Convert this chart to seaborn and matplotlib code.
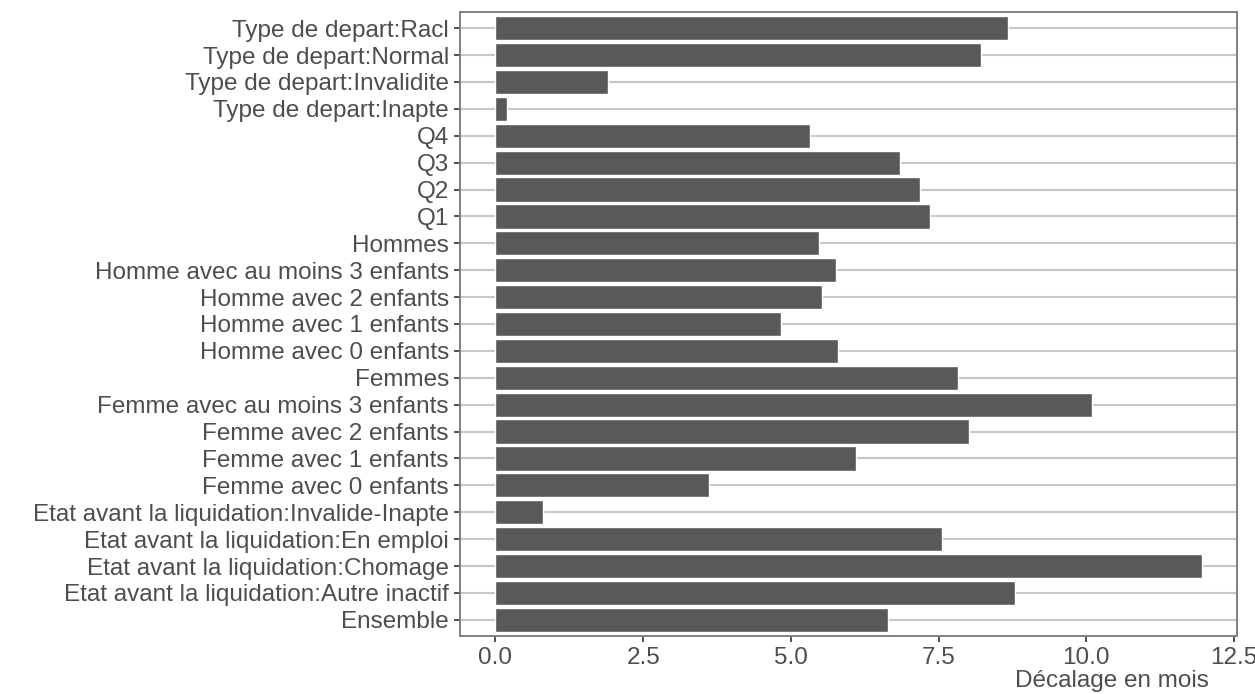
import matplotlib
matplotlib.use("Agg")
import matplotlib.pyplot as plt
import seaborn as sns
import pandas as pd

# categories from top to bottom, as in the picture
categories = [
    "Type de depart:Racl",
    "Type de depart:Normal",
    "Type de depart:Invalidite",
    "Type de depart:Inapte",
    "Q4",
    "Q3",
    "Q2",
    "Q1",
    "Hommes",
    "Homme avec au moins 3 enfants",
    "Homme avec 2 enfants",
    "Homme avec 1 enfants",
    "Homme avec 0 enfants",
    "Femmes",
    "Femme avec au moins 3 enfants",
    "Femme avec 2 enfants",
    "Femme avec 1 enfants",
    "Femme avec 0 enfants",
    "Etat avant la liquidation:Invalide-Inapte",
    "Etat avant la liquidation:En emploi",
    "Etat avant la liquidation:Chomage",
    "Etat avant la liquidation:Autre inactif",
    "Ensemble",
]
decalage = [8.68, 8.21, 1.90, 0.20, 5.33, 6.84, 7.19, 7.35, 5.48, 5.76, 5.52, 4.84,
            5.80, 7.83, 10.09, 8.01, 6.10, 3.61, 0.80, 7.55, 11.95, 8.80, 6.65]
x_ticks = [0.0, 2.5, 5.0, 7.5, 10.0, 12.5]

df = pd.DataFrame({"categorie": categories, "decalage": decalage})

sns.set_theme(style="white")
plt.rcParams['font.family'] = ['Liberation Sans', 'DejaVu Sans']

fig = plt.figure(figsize=(12.55, 6.94), dpi=100)
ax = fig.add_axes([460 / 1255, 1 - 636 / 694, (1237 - 460) / 1255, (636 - 12) / 694])

# horizontal grid lines at every category, behind the bars
for i in range(len(categories)):
    ax.axhline(i, color='#c8c8c8', linewidth=1.5, zorder=0)

sns.barplot(data=df, x="decalage", y="categorie", orient="h", color="#595959",
            saturation=1, width=0.9, ax=ax, zorder=2)

ax.set_xlim(-0.6, 12.55)
ax.set_ylim(len(categories) - 0.4, -0.6)
ax.set_xticks(x_ticks)
ax.set_xticklabels([f"{t:.1f}" for t in x_ticks])
ax.set_ylabel("")
ax.set_xlabel("")

for s in ax.spines.values():
    s.set_color('#808080')
    s.set_linewidth(1.4)

ax.tick_params(axis='both', which='major', length=4, width=1.2, color='#333333',
               labelsize=17.5, labelcolor='#4d4d4d', pad=4, bottom=True, left=True)

fig.text(1209 / 1255, 1 - 681 / 694, "Décalage en mois", ha='right', va='center',
         fontsize=17.5, color='#4d4d4d')

fig.savefig("out.png", dpi=100)
